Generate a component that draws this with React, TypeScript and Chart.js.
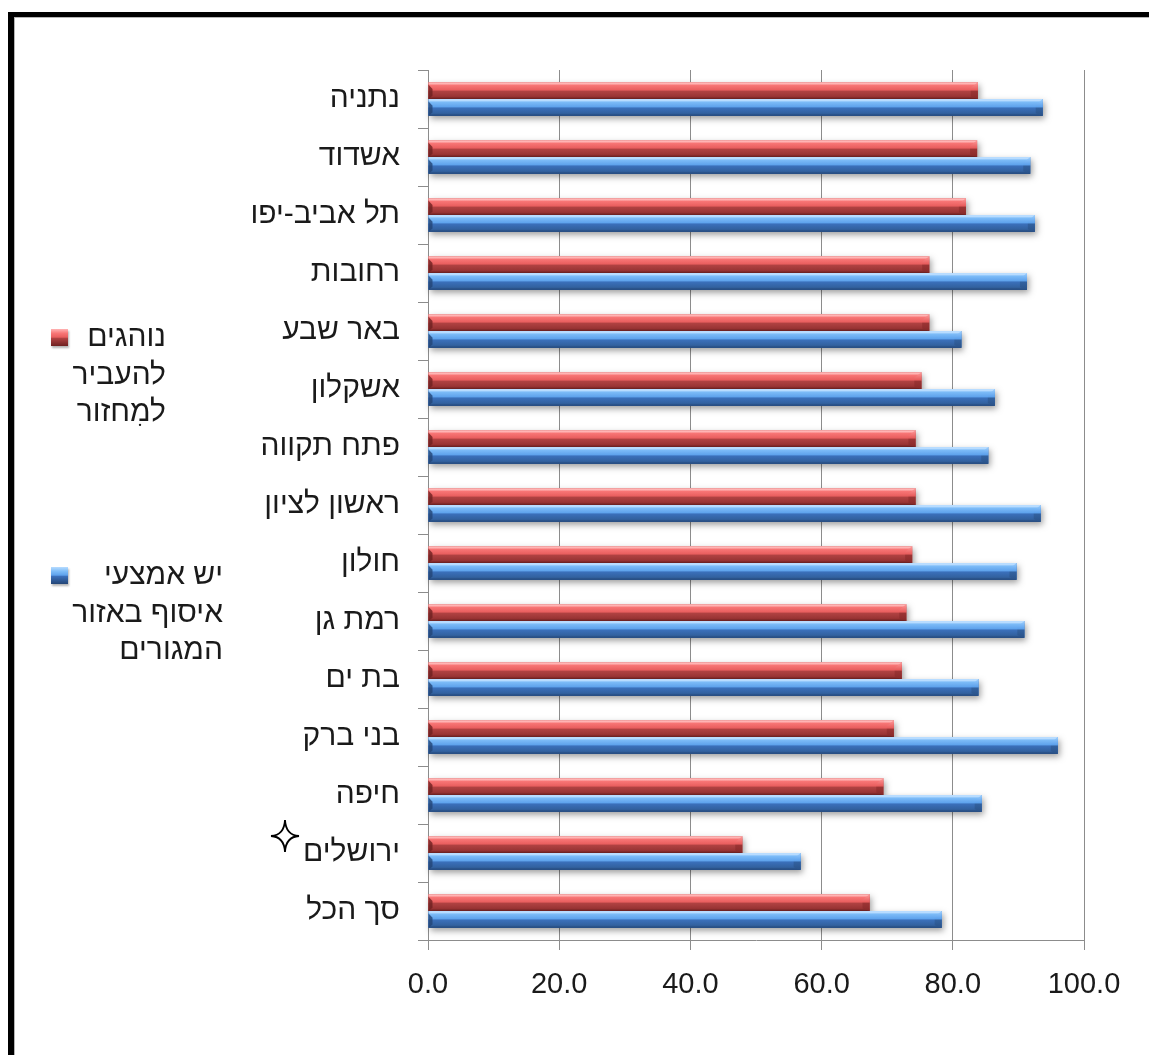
import React, { useEffect, useRef } from "react";
import { Chart, registerables } from "chart.js";

Chart.register(...registerables);

const categories = [
  "נתניה",
  "אשדוד",
  "תל אביב-יפו",
  "רחובות",
  "באר שבע",
  "אשקלון",
  "פתח תקווה",
  "ראשון לציון",
  "חולון",
  "רמת גן",
  "בת ים",
  "בני ברק",
  "חיפה",
  "ירושלים",
  "סך הכל",
];
const recycleValues = [83.8, 83.7, 82.0, 76.4, 76.4, 75.2, 74.3, 74.3, 73.8, 72.9, 72.2, 71.0, 69.4, 47.9, 67.3];
const facilityValues = [93.7, 91.8, 92.5, 91.3, 81.3, 86.4, 85.4, 93.4, 89.7, 90.9, 83.9, 96.0, 84.4, 56.8, 78.3];
const seriesNames = ["נוהגים להעביר למִחזור", "יש אמצעי איסוף באזור המגורים"];
const legendRedLines = ["נוהגים", "להעביר", "למִחזור"];
const legendBlueLines = ["יש אמצעי", "איסוף באזור", "המגורים"];
const xMin = 0;
const xMax = 100;
const xStep = 20;

const FONT = "'Liberation Sans', 'DejaVu Sans', Arial, sans-serif";

type Pal = { hi: string; light: string; mid: string; low: string; low2: string; dark: string; endTop: string; endBot: string };
const palettes: Pal[] = [
  { hi: "#ffb4b4", light: "#f87676", mid: "#e85e5e", low: "#b04242", low2: "#9a3434", dark: "#6e2020", endTop: "#ff9a9a", endBot: "#8a2a2a" },
  { hi: "#b8dcff", light: "#7dbcf8", mid: "#5ea2ec", low: "#3b70bb", low2: "#32619f", dark: "#234575", endTop: "#9ccfff", endBot: "#2a5288" },
];

function drawBevel(ctx: CanvasRenderingContext2D, l: number, r: number, t: number, b: number, pal: Pal) {
  const h = b - t;
  const w = r - l;
  if (w <= 0) return;
  ctx.save();
  ctx.shadowColor = "rgba(0,0,0,0.38)";
  ctx.shadowBlur = 6;
  ctx.shadowOffsetX = 2;
  ctx.shadowOffsetY = 3;
  ctx.fillStyle = pal.low;
  ctx.fillRect(l, t, w, h);
  ctx.restore();

  const g = ctx.createLinearGradient(0, t, 0, b);
  g.addColorStop(0, pal.hi);
  g.addColorStop(0.1, pal.hi);
  g.addColorStop(0.18, pal.light);
  g.addColorStop(0.47, pal.mid);
  g.addColorStop(0.53, pal.low);
  g.addColorStop(0.85, pal.low2);
  g.addColorStop(1, pal.dark);
  ctx.fillStyle = g;
  ctx.fillRect(l, t, w, h);

  // right end facet
  const e = Math.min(7, w / 2);
  const g2 = ctx.createLinearGradient(0, t, 0, b);
  g2.addColorStop(0, pal.endTop);
  g2.addColorStop(0.45, pal.mid);
  g2.addColorStop(0.55, pal.low2);
  g2.addColorStop(1, pal.endBot);
  ctx.beginPath();
  ctx.moveTo(r, t);
  ctx.lineTo(r, b);
  ctx.lineTo(r - e, b - h * 0.15);
  ctx.lineTo(r - e, t + h * 0.35);
  ctx.closePath();
  ctx.fillStyle = g2;
  ctx.fill();

  // left end small facet
  const le = Math.min(4, w / 3);
  ctx.beginPath();
  ctx.moveTo(l, t + h * 0.15);
  ctx.lineTo(l + le, t + h * 0.4);
  ctx.lineTo(l + le, b - h * 0.2);
  ctx.lineTo(l, b);
  ctx.closePath();
  ctx.fillStyle = pal.dark;
  ctx.globalAlpha = 0.8;
  ctx.fill();
  ctx.globalAlpha = 1;
}

const bevelPlugin = {
  id: "bevelBars",
  afterDatasetsDraw(chart: any) {
    const ctx = chart.ctx as CanvasRenderingContext2D;
    chart.data.datasets.forEach((_ds: any, di: number) => {
      const meta = chart.getDatasetMeta(di);
      const pal = palettes[di];
      meta.data.forEach((el: any) => {
        const p = el.getProps(["x", "y", "base", "height"], true);
        const l = Math.min(p.base, p.x);
        const r = Math.max(p.base, p.x);
        const t = p.y - p.height / 2;
        const b = p.y + p.height / 2;
        drawBevel(ctx, l, r, t, b, pal);
      });
    });
  },
};

function LegendSquare({ pal, left, top }: { pal: Pal; left: number; top: number }) {
  return (
    <div
      style={{
        position: "absolute",
        left,
        top,
        width: 17,
        height: 17,
        background: `linear-gradient(to bottom, ${pal.hi} 0%, ${pal.light} 25%, ${pal.mid} 48%, ${pal.low} 55%, ${pal.dark} 100%)`,
        boxShadow: "1px 2px 2px rgba(0,0,0,0.3)",
      }}
    />
  );
}

function LegendText({ lines, right, top }: { lines: string[]; right: number; top: number }) {
  return (
    <div
      dir="rtl"
      style={{
        position: "absolute",
        left: right - 220,
        width: 220,
        top,
        textAlign: "right",
        fontFamily: FONT,
        fontSize: 30,
        lineHeight: "37.5px",
        color: "#1a1a1a",
      }}
    >
      {lines.map((s, i) => (
        <div key={i}>{s}</div>
      ))}
    </div>
  );
}

export default function App() {
  const canvasRef = useRef<HTMLCanvasElement | null>(null);

  useEffect(() => {
    const canvas = canvasRef.current;
    if (!canvas) return;
    const chart = new Chart(canvas, {
      type: "bar",
      data: {
        labels: categories,
        datasets: [
          {
            label: seriesNames[0],
            data: recycleValues,
            backgroundColor: palettes[0].mid,
            borderWidth: 0,
            categoryPercentage: 0.58,
            barPercentage: 1,
          },
          {
            label: seriesNames[1],
            data: facilityValues,
            backgroundColor: palettes[1].mid,
            borderWidth: 0,
            categoryPercentage: 0.58,
            barPercentage: 1,
          },
        ],
      },
      options: {
        indexAxis: "y",
        responsive: false,
        animation: false,
        devicePixelRatio: 1,
        layout: { padding: { left: 200, right: 65, top: 70, bottom: 35 } },
        plugins: {
          legend: { display: false },
          tooltip: { enabled: false },
        },
        scales: {
          x: {
            min: xMin,
            max: xMax,
            afterFit: (scale: any) => {
              scale.height = 80;
            },
            ticks: {
              stepSize: xStep,
              callback: (v: any) => Number(v).toFixed(1),
              color: "#1a1a1a",
              font: { family: FONT, size: 29 },
              padding: 18,
              maxRotation: 0,
            },
            grid: {
              color: "#8c8c8c",
              lineWidth: 1,
              tickLength: 10,
              drawTicks: true,
            },
            border: { color: "#8c8c8c", width: 1 },
          },
          y: {
            afterFit: (scale: any) => {
              scale.width = 228;
            },
            ticks: {
              color: "#1a1a1a",
              font: { family: FONT, size: 30 },
              padding: 18,
            },
            grid: {
              drawOnChartArea: false,
              drawTicks: true,
              tickLength: 10,
              color: "#8c8c8c",
              offset: true,
            },
            border: { color: "#8c8c8c", width: 1 },
          },
        },
      },
      plugins: [bevelPlugin],
    });
    return () => chart.destroy();
  }, []);

  return (
    <div style={{ position: "fixed", left: 0, top: 0, width: 1149, height: 1055, background: "#fff", overflow: "hidden" }}>
      <div
        style={{
          position: "absolute",
          left: 8,
          top: 12,
          width: 1160,
          height: 1060,
          borderTop: "5px solid #000",
          borderLeft: "6px solid #000",
          boxSizing: "border-box",
        }}
      >
        <div style={{ width: "100%", height: "100%", borderTop: "1px solid #b5b5b5", borderLeft: "1px solid #b5b5b5", boxSizing: "border-box" }} />
      </div>
      <canvas ref={canvasRef} width={1149} height={1055} style={{ position: "absolute", left: 0, top: 0, width: 1149, height: 1055 }} />
      <LegendSquare pal={palettes[0]} left={51} top={329} />
      <LegendText lines={legendRedLines} right={166} top={317} />
      <LegendSquare pal={palettes[1]} left={51} top={567} />
      <LegendText lines={legendBlueLines} right={223} top={555} />
      <svg
        width={36}
        height={40}
        viewBox="-18 -20 36 40"
        style={{ position: "absolute", left: 285 - 18, top: 836 - 20 }}
      >
        <path
          d="M0,-16 Q0.8,-0.8 14,0 Q0.8,0.8 0,16 Q-0.8,0.8 -14,0 Q-0.8,-0.8 0,-16 Z"
          fill="#fff"
          stroke="#000"
          strokeWidth={1.8}
          strokeLinejoin="miter"
        />
      </svg>
    </div>
  );
}
